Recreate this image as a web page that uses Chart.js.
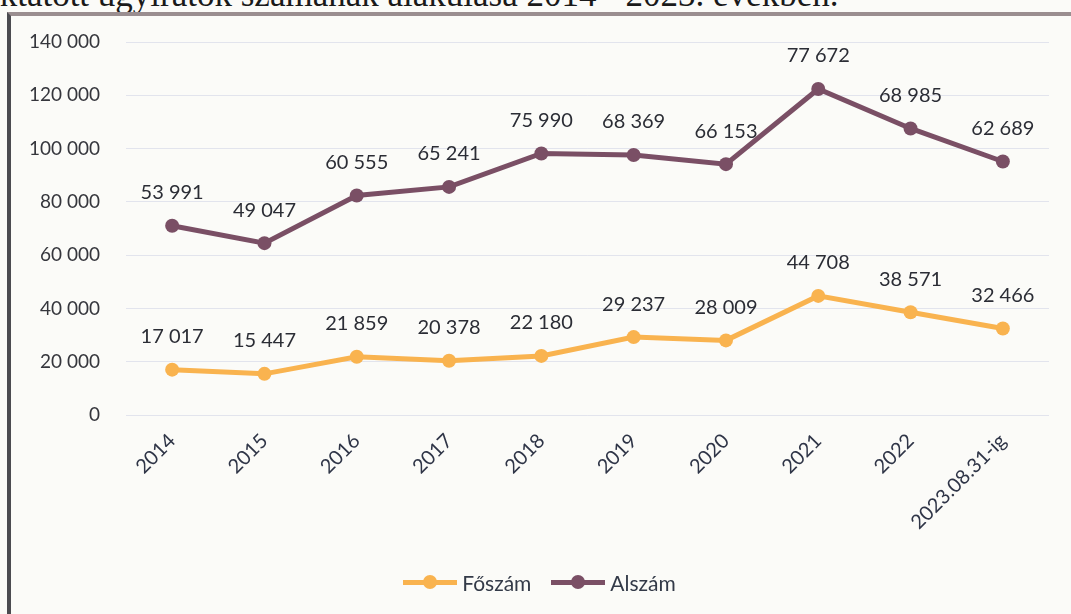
<!DOCTYPE html>
<html lang="hu">
<head>
<meta charset="utf-8">
<script src="https://cdn.jsdelivr.net/npm/chart.js@4.4.1/dist/chart.umd.min.js"></script>
<style>
  html, body { margin: 0; padding: 0; background: #fbfbf8; }
  body { width: 1071px; height: 614px; position: relative; overflow: hidden; }
  #title {
    position: absolute; left: -12px; top: -25px; white-space: nowrap;
    font-family: "Liberation Serif", "DejaVu Serif", serif; font-size: 35px; color: #1a1a1a;
  }
  #frame {
    position: absolute; left: 7px; top: 12px; width: 1080px; height: 640px;
    border-left: 4px solid #4b4b50; border-top: 4px solid #9a8e90;
  }
  #wrap { position: absolute; left: 0; top: 0; width: 1071px; height: 614px; }
  #legend {
    position: absolute; top: 564px; left: 4px; width: 1071px; text-align: center;
    font-family: Lato, "Open Sans", sans-serif; font-size: 21px; color: #333a48;
  }
  .item { display: inline-flex; align-items: center; margin: 0 10px; }
  .sample { position: relative; width: 54px; height: 5px; margin-right: 5px; }
  .sample i { position: absolute; left: 20px; top: -5px; width: 14px; height: 14px; border-radius: 50%; }
</style>
</head>
<body>
<div id="title">Iktatott ügyiratok számának alakulása 2014 - 2023. években.</div>
<div id="frame"></div>
<div id="wrap"><canvas id="chart" width="1071" height="614"></canvas></div>
<div id="legend"></div>
<script>
// évek (x tengely)
const years = ["2014", "2015", "2016", "2017", "2018", "2019", "2020", "2021", "2022", "2023.08.31-ig"];

// Főszám és Alszám értékek (a vonal halmozott, a címke az eredeti értéket mutatja)
const foszam = [17017, 15447, 21859, 20378, 22180, 29237, 28009, 44708, 38571, 32466];
const alszam = [53991, 49047, 60555, 65241, 75990, 68369, 66153, 77672, 68985, 62689];

const yTicks = [0, 20000, 40000, 60000, 80000, 100000, 120000, 140000];

const orange = "#f9b34f";
const purple = "#7a4f65";

const fmt = v => String(v).replace(/\B(?=(\d{3})+(?!\d))/g, " ");

// pontok feletti értékcímkék
const valueLabels = {
  id: "valueLabels",
  afterDatasetsDraw(chart) {
    const ctx = chart.ctx;
    ctx.save();
    ctx.font = "20px Lato";
    ctx.fillStyle = "#2b2d35";
    ctx.textAlign = "center";
    ctx.textBaseline = "middle";
    chart.data.datasets.forEach((ds, i) => {
      const meta = chart.getDatasetMeta(i);
      meta.data.forEach((pt, j) => {
        ctx.fillText(fmt(ds.data[j]), pt.x, pt.y - 33);
      });
    });
    ctx.restore();
  }
};

const chart = new Chart(document.getElementById("chart"), {
  type: "line",
  data: {
    labels: years,
    datasets: [
      {
        label: "Főszám",
        data: foszam,
        borderColor: orange,
        backgroundColor: orange,
        borderWidth: 5,
        pointRadius: 7,
        pointBackgroundColor: orange,
        pointBorderWidth: 0,
        tension: 0,
        fill: false
      },
      {
        label: "Alszám",
        data: alszam,
        borderColor: purple,
        backgroundColor: purple,
        borderWidth: 5,
        pointRadius: 7,
        pointBackgroundColor: purple,
        pointBorderWidth: 0,
        tension: 0,
        fill: false
      }
    ]
  },
  options: {
    responsive: false,
    animation: false,
    layout: { padding: { top: 42, right: 22, bottom: 54, left: 0 } },
    plugins: {
      legend: { display: false },
      tooltip: { enabled: false }
    },
    scales: {
      x: {
        offset: true,
        grid: { display: false },
        border: { display: false },
        ticks: {
          minRotation: 45,
          maxRotation: 45,
          color: "#2f3547",
          font: { family: "Lato", size: 20 },
          padding: 6
        },
        afterFit(scale) { scale.height = 145; }
      },
      y: {
        stacked: true,
        min: 0,
        max: 140000,
        afterBuildTicks(scale) { scale.ticks = yTicks.map(v => ({ value: v })); },
        grid: { color: "rgba(195,200,225,0.45)", lineWidth: 1, drawTicks: false },
        border: { display: false },
        ticks: {
          color: "#35363c",
          font: { family: "Lato", size: 19 },
          padding: 26,
          callback: v => fmt(v)
        },
        afterFit(scale) { scale.width = 126; }
      }
    }
  },
  plugins: [valueLabels]
});

// jelmagyarázat
const legend = document.getElementById("legend");
chart.data.datasets.forEach(ds => {
  const item = document.createElement("span");
  item.className = "item";
  item.innerHTML = '<span class="sample" style="background:' + ds.borderColor + '"><i style="background:' +
    ds.borderColor + '"></i></span>' + ds.label;
  legend.appendChild(item);
});
</script>
</body>
</html>
